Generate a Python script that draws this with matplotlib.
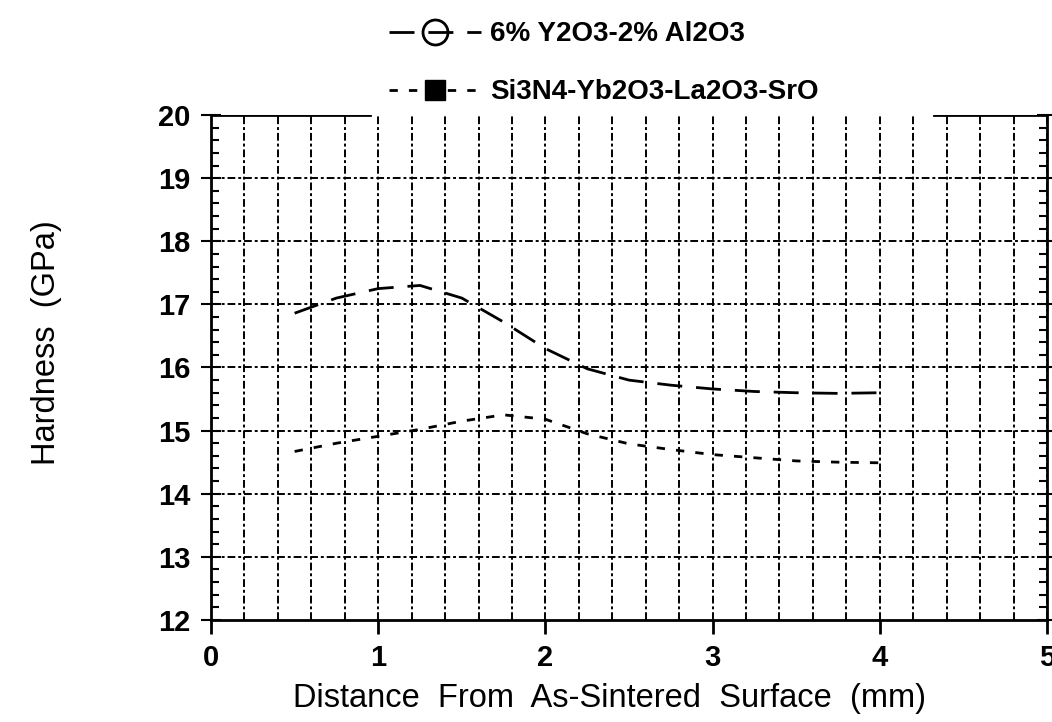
import numpy as np
import matplotlib
matplotlib.use("Agg")
import matplotlib.pyplot as plt
from matplotlib.lines import Line2D
from matplotlib.ticker import MultipleLocator

plt.rcParams['font.family'] = ['Liberation Sans', 'DejaVu Sans']

# Hardness profiles
distance = [0.5, 0.75, 1.0, 1.25, 1.5, 1.75, 2.0, 2.25, 2.5, 2.75, 3.0, 3.25, 3.5, 3.75, 4.0]
hard_y2o3 = [16.86, 17.1, 17.25, 17.3, 17.1, 16.72, 16.3, 15.98, 15.8, 15.72, 15.66, 15.62, 15.6, 15.59, 15.6]
hard_si3n4 = [14.67, 14.8, 14.91, 15.02, 15.15, 15.25, 15.18, 14.95, 14.79, 14.7, 14.62, 14.57, 14.52, 14.5, 14.49]

labels = ['6% Y2O3-2% Al2O3', 'Si3N4-Yb2O3-La2O3-SrO']
grid_y = [13, 14, 15, 16, 17, 18, 19]

fig = plt.figure(figsize=(10.52, 7.22), dpi=100)
ax = fig.add_axes([0.2006, 0.1413, 0.7946, 0.6994])

long_dash = (0, (9, 5))
short_dash = (0, (3, 4))

ax.plot(distance, hard_y2o3, color='black', lw=2.0, linestyle=long_dash)
ax.plot(distance, hard_si3n4, color='black', lw=2.0, linestyle=short_dash)

ax.set_xlim(0, 5)
ax.set_ylim(12, 20)

# grid: dotted-dashed verticals every 0.2, horizontals at each integer
gstyle = (0, (4, 1.5, 1.5, 1.5))
ax.xaxis.set_major_locator(MultipleLocator(1))
ax.xaxis.set_minor_locator(MultipleLocator(0.2))
ax.yaxis.set_major_locator(MultipleLocator(1))
ax.yaxis.set_minor_locator(MultipleLocator(0.2))
ax.grid(which='both', axis='x', color='black', lw=1.4, linestyle=gstyle)
ax.hlines(grid_y, 0, 5, color='black', lw=1.4, linestyle=gstyle)

# frame: top edge only partly drawn in the original
ax.spines['top'].set_visible(False)
for s in ['left', 'right', 'bottom']:
    ax.spines[s].set_linewidth(2)
ax.axhline(20, xmin=0, xmax=0.19, color='black', lw=2)
ax.axhline(20, xmin=0.865, xmax=1, color='black', lw=2)

ax.tick_params(axis='x', which='major', direction='out', length=10, width=2,
               labelsize=21, pad=7)
ax.tick_params(axis='x', which='minor', length=0)
ax.tick_params(axis='y', which='major', direction='inout', length=14, width=1.5,
               labelsize=21, pad=8, right=True)
ax.tick_params(axis='y', which='minor', direction='in', length=6, width=1.5,
               right=True)
for t in ax.get_xticklabels() + ax.get_yticklabels():
    t.set_fontweight('bold')

ax.set_xlabel('Distance  From  As-Sintered  Surface  (mm)', fontsize=23.5)
ax.xaxis.set_label_coords(0.477, -0.125)
ax.set_ylabel('Hardness  (GPa)', fontsize=23.5)
ax.yaxis.set_label_coords(-0.178, 0.55)

handles = [
    Line2D([], [], color='black', lw=2.0, linestyle=long_dash,
           marker='o', markersize=18, markerfacecolor='none', markeredgewidth=2),
    Line2D([], [], color='black', lw=2.0, linestyle=short_dash,
           marker='s', markersize=15, markerfacecolor='black'),
]
fig.legend(handles, labels, loc='upper left', bbox_to_anchor=(0.346, 1.005),
           frameon=False, handlelength=3.3, handletextpad=0.35,
           labelspacing=1.15, prop={'size': 20, 'weight': 'bold'})

fig.savefig('out.png', dpi=100)
